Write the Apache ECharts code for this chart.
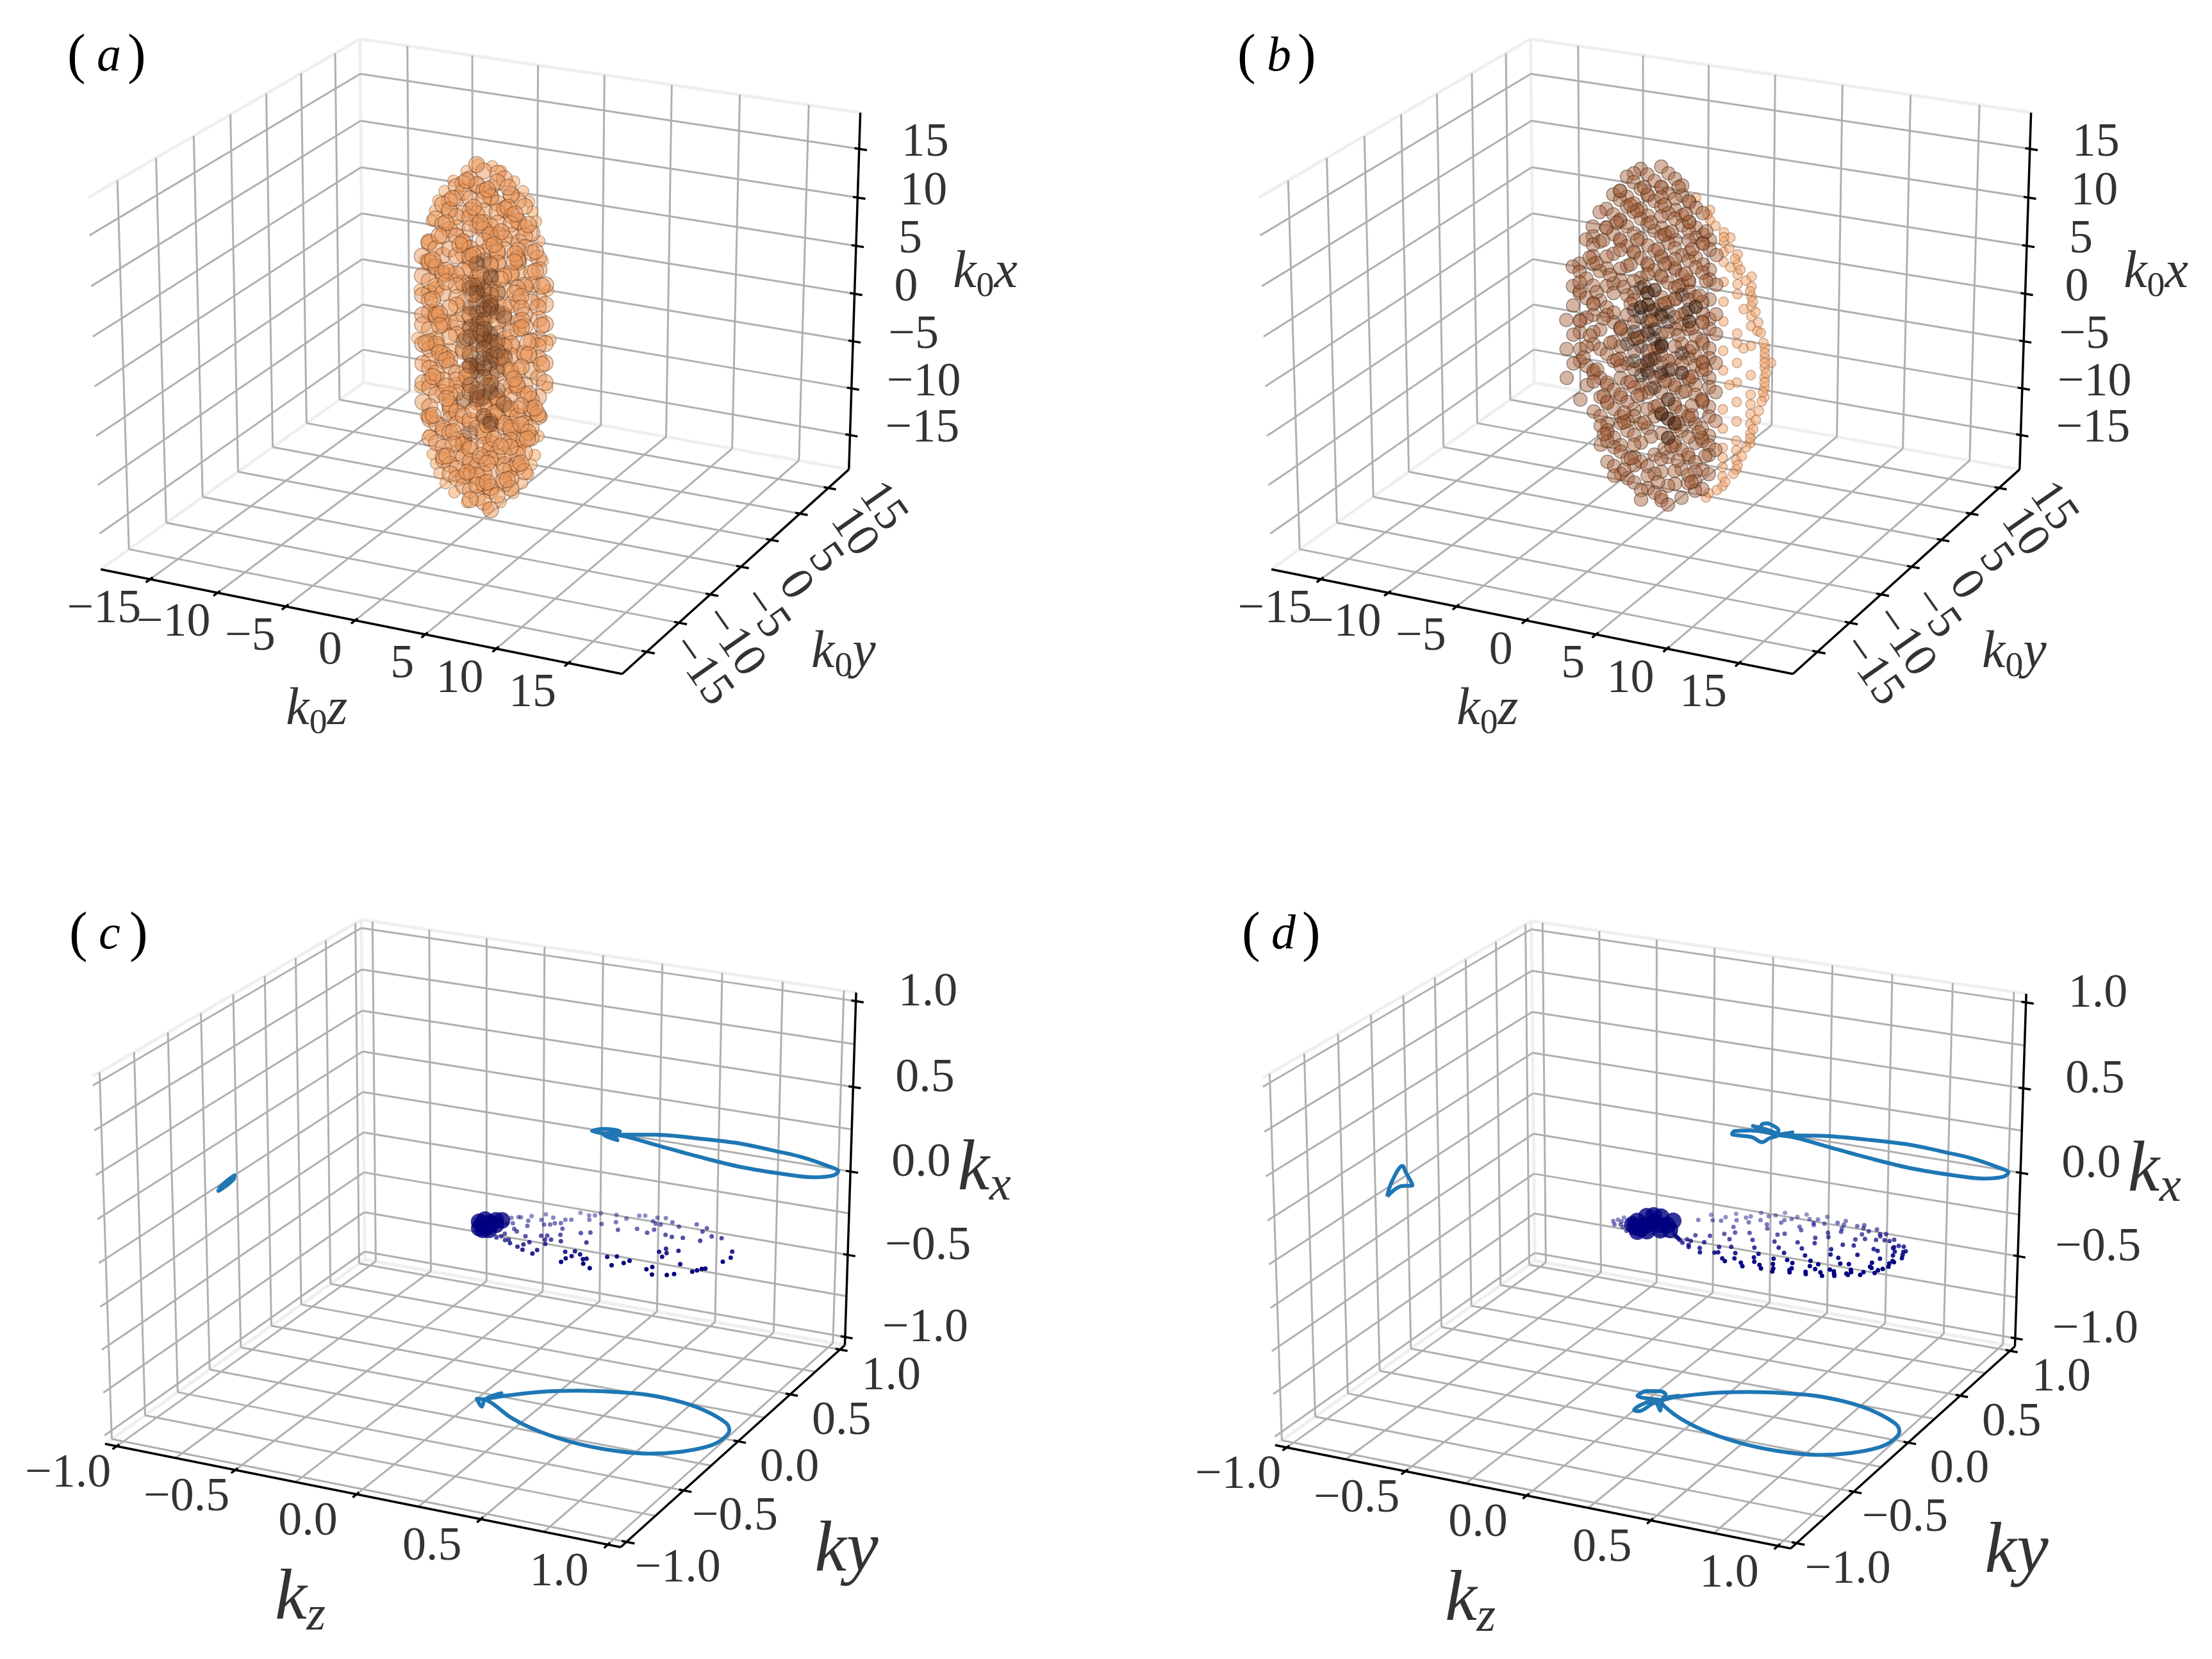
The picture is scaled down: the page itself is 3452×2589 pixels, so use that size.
<!DOCTYPE html>
<html>
<head>
<meta charset="utf-8">
<style>html,body{margin:0;background:#fff}#chart{width:3452px;height:2589px}</style>
<script src="https://cdn.jsdelivr.net/npm/echarts@6/dist/echarts.min.js"></script>
</head>
<body>
<div id="chart"></div>
<script>
// points are [k0z, k0y, k0x]
const cloudA = [
[0,0,17],[1,0,17],[-1,1,17],
[-1,0,16],[1,1,16],[0,-1,16],[1,-1,16],[-1,-1,16],
[-2,0,15],[-1,1,15],[0,0,15],[1,-1,15],[2,0,15],[0,2,15],[-1,-2,15],
[-2,-1,14],[-2,1,14],[-1,0,14],[0,-2,14],[0,1,14],[1,0,14],[2,-1,14],[2,1,14],[1,2,14],
[-3,0,13],[-2,-1,13],[-1,2,13],[-1,-1,13],[0,0,13],[1,-2,13],[1,1,13],[2,0,13],[3,-1,13],[2,2,13],
[-3,-1,12],[-3,1,12],[-2,0,12],[-1,-2,12],[-1,1,12],[0,-1,12],[0,2,12],[1,0,12],[2,-2,12],[2,1,12],[3,0,12],
[-3,0,11],[-2,-2,11],[-2,2,11],[-1,0,11],[0,-3,11],[0,1,11],[1,-1,11],[1,2,11],[2,0,11],[3,-1,11],[3,1,11],
[-3,-2,10],[-3,1,10],[-2,0,10],[-1,-1,10],[-1,2,10],[0,0,10],[0,-3,10],[1,1,10],[1,-2,10],[2,-1,10],[2,2,10],[3,0,10],
[-4,0,9],[-3,-1,9],[-2,1,9],[-2,-2,9],[-1,0,9],[-1,3,9],[0,-2,9],[0,1,9],[1,0,9],[2,-2,9],[2,1,9],[3,1,9],[3,-1,9],
[-4,-1,8],[-3,1,8],[-3,-2,8],[-2,0,8],[-1,-3,8],[-1,1,8],[0,2,8],[0,-1,8],[1,0,8],[1,-3,8],[2,1,8],[3,-1,8],[3,2,8],[4,0,8],
[-4,0,7],[-3,-1,7],[-2,2,7],[-2,-2,7],[-1,0,7],[0,-3,7],[0,1,7],[1,-1,7],[1,3,7],[2,0,7],[2,-3,7],[3,1,7],[4,-1,7],
[-4,1,6],[-4,-1,6],[-3,0,6],[-2,-3,6],[-2,1,6],[-1,-1,6],[-1,3,6],[0,0,6],[1,-2,6],[1,2,6],[2,-1,6],[3,0,6],[4,1,6],
[-4,0,5],[-3,-2,5],[-3,2,5],[-2,0,5],[-1,-2,5],[-1,1,5],[0,3,5],[0,-1,5],[1,0,5],[2,2,5],[2,-2,5],[3,-1,5],[4,0,5],
[-4,-1,4],[-4,1,4],[-3,0,4],[-2,-3,4],[-2,2,4],[-1,-1,4],[0,1,4],[0,-3,4],[1,-1,4],[1,3,4],[2,0,4],[3,1,4],[4,1,4],
[-4,0,3],[-3,-2,3],[-2,0,3],[-2,3,3],[-1,-3,3],[-1,1,3],[0,-1,3],[1,1,3],[1,-2,3],[2,-1,3],[3,2,3],[3,-1,3],[4,0,3],
[-4,-1,2],[-3,1,2],[-3,-1,2],[-2,-2,2],[-1,0,2],[-1,3,2],[0,-2,2],[0,1,2],[1,0,2],[2,2,2],[2,-2,2],[3,0,2],[4,1,2],
[-4,1,1],[-4,-1,1],[-3,0,1],[-2,2,1],[-2,-3,1],[-1,-1,1],[0,0,1],[0,3,1],[1,-2,1],[2,1,1],[2,-1,1],[3,-2,1],[4,0,1],
[-4,0,0],[-3,2,0],[-3,-2,0],[-2,0,0],[-1,-3,0],[-1,1,0],[0,-1,0],[1,2,0],[1,-1,0],[2,0,0],[3,1,0],[3,-2,0],[4,1,0],
[-4,-1,-1],[-3,1,-1],[-3,-1,-1],[-2,-2,-1],[-1,2,-1],[-1,-1,-1],[0,0,-1],[1,-3,-1],[1,1,-1],[2,-1,-1],[3,0,-1],[3,2,-1],[4,0,-1],
[-4,0,-2],[-4,1,-2],[-3,-2,-2],[-2,1,-2],[-2,-1,-2],[-1,3,-2],[0,-2,-2],[0,1,-2],[1,0,-2],[2,2,-2],[2,-2,-2],[3,-1,-2],[4,1,-2],
[-4,-1,-3],[-3,0,-3],[-2,-3,-3],[-2,2,-3],[-1,0,-3],[0,-3,-3],[0,2,-3],[1,-1,-3],[1,1,-3],[2,0,-3],[3,-2,-3],[3,1,-3],[4,0,-3],
[-4,0,-4],[-3,-2,-4],[-3,1,-4],[-2,0,-4],[-1,-2,-4],[-1,2,-4],[0,0,-4],[1,-3,-4],[1,2,-4],[2,-1,-4],[3,0,-4],[3,-2,-4],[4,1,-4],
[-4,1,-5],[-4,-1,-5],[-3,0,-5],[-2,2,-5],[-2,-2,-5],[-1,0,-5],[0,-3,-5],[0,1,-5],[1,-1,-5],[2,1,-5],[2,-2,-5],[3,0,-5],[4,0,-5],
[-4,0,-6],[-3,-1,-6],[-3,2,-6],[-2,0,-6],[-1,-3,-6],[-1,1,-6],[0,-1,-6],[1,3,-6],[1,0,-6],[2,-2,-6],[3,1,-6],[3,-1,-6],[4,-1,-6],
[-4,-1,-7],[-3,1,-7],[-2,-1,-7],[-2,2,-7],[-1,-3,-7],[0,0,-7],[0,2,-7],[1,-2,-7],[1,1,-7],[2,0,-7],[3,-2,-7],[3,1,-7],[4,0,-7],
[-4,0,-8],[-3,-2,-8],[-3,1,-8],[-2,0,-8],[-1,-2,-8],[-1,2,-8],[0,0,-8],[1,-1,-8],[1,2,-8],[2,-1,-8],[2,1,-8],[3,0,-8],[3,2,-8],
[-3,-1,-9],[-4,0,-9],[-2,1,-9],[-2,-2,-9],[-1,0,-9],[0,-3,-9],[0,2,-9],[1,-1,-9],[1,1,-9],[2,0,-9],[3,-1,-9],[3,1,-9],
[-3,0,-10],[-3,-2,-10],[-2,2,-10],[-1,-1,-10],[-1,1,-10],[0,-2,-10],[0,0,-10],[1,2,-10],[1,-1,-10],[2,0,-10],[3,-1,-10],[3,1,-10],
[-3,1,-11],[-3,-1,-11],[-2,0,-11],[-1,-2,-11],[-1,2,-11],[0,0,-11],[1,-2,-11],[1,1,-11],[2,-1,-11],[2,2,-11],[3,0,-11],
[-3,0,-12],[-2,-2,-12],[-2,1,-12],[-1,-1,-12],[0,1,-12],[0,-2,-12],[1,0,-12],[2,-1,-12],[2,1,-12],[3,-1,-12],[1,2,-12],
[-3,0,-13],[-2,-1,-13],[-2,2,-13],[-1,0,-13],[0,-2,-13],[0,1,-13],[1,-1,-13],[2,0,-13],[2,1,-13],[3,0,-13],
[-2,0,-14],[-2,-1,-14],[-1,1,-14],[-1,-1,-14],[0,0,-14],[1,-2,-14],[1,1,-14],[2,0,-14],[2,-1,-14],
[-2,0,-15],[-1,-1,-15],[-1,1,-15],[0,0,-15],[1,-1,-15],[1,1,-15],[2,0,-15],
[-1,0,-16],[0,-1,-16],[0,1,-16],[1,0,-16],[-1,1,-16],
[0,0,-17],[-1,0,-17],[1,-1,-17],
[-1.5,.5,15.5],[.5,-.5,15.5],[1.5,.5,15.5],[-2.5,.5,13.5],[-.5,-.5,13.5],[1.5,.5,13.5],[2.5,-.5,13.5],[-2.5,-.5,11.5],[-.5,.5,11.5],[1.5,-.5,11.5],[2.5,1.5,11.5],
[-3.5,.5,9.5],[-1.5,-.5,9.5],[.5,.5,9.5],[2.5,-.5,9.5],[3.5,.5,9.5],[-3.5,-.5,7.5],[-1.5,1.5,7.5],[.5,-1.5,7.5],[1.5,1.5,7.5],[3.5,.5,7.5],
[-3.5,1.5,5.5],[-2.5,-.5,5.5],[-.5,-.5,5.5],[.5,1.5,5.5],[2.5,-.5,5.5],[3.5,1.5,5.5],[-3.5,-.5,3.5],[-1.5,1.5,3.5],[.5,-.5,3.5],[1.5,2.5,3.5],[2.5,.5,3.5],[3.5,-1.5,3.5],
[-3.5,.5,1.5],[-2.5,-1.5,1.5],[-.5,.5,1.5],[.5,-1.5,1.5],[2.5,.5,1.5],[3.5,1.5,1.5],[-3.5,-1.5,-.5],[-1.5,.5,-.5],[.5,.5,-.5],[1.5,-1.5,-.5],[2.5,1.5,-.5],[3.5,-.5,-.5],
[-3.5,.5,-2.5],[-2.5,-.5,-2.5],[-.5,-1.5,-2.5],[.5,1.5,-2.5],[2.5,.5,-2.5],[3.5,1.5,-2.5],[-3.5,-.5,-4.5],[-1.5,.5,-4.5],[.5,-.5,-4.5],[1.5,1.5,-4.5],[3.5,-.5,-4.5],
[-3.5,1.5,-6.5],[-2.5,-.5,-6.5],[-.5,.5,-6.5],[1.5,-1.5,-6.5],[2.5,.5,-6.5],[3.5,.5,-6.5],[-3.5,-.5,-8.5],[-1.5,1.5,-8.5],[.5,-.5,-8.5],[2.5,.5,-8.5],[3.5,-.5,-8.5],
[-2.5,.5,-10.5],[-1.5,-1.5,-10.5],[.5,.5,-10.5],[1.5,-.5,-10.5],[2.5,1.5,-10.5],[-2.5,-.5,-12.5],[-.5,.5,-12.5],[.5,-.5,-12.5],[2.5,.5,-12.5],[-1.5,.5,-14.5],[.5,-.5,-14.5],[1.5,.5,-14.5]
];
// outline of the ellipsoid
const edgeA = [
[1,.5,17],[-1,-.5,17],[1.8,.8,16],[-1.8,-.8,16],[2.3,1.1,15],[-2.3,-1.1,15],[2.7,1.2,14],[-2.7,-1.2,14],[2.9,1.3,13],[-2.9,-1.3,13],[3.1,1.4,12],[-3.1,-1.4,12],[3.3,1.5,10],[-3.3,-1.5,10],
[3.5,1.6,8],[-3.5,-1.6,8],[3.8,1.8,5],[-3.8,-1.8,5],[4,1.8,0],[-4,-1.8,0],[3.8,1.8,-5],[-3.8,-1.8,-5],[3.5,1.6,-8],[-3.5,-1.6,-8],[3.3,1.5,-10],[-3.3,-1.5,-10],
[3.1,1.4,-12],[-3.1,-1.4,-12],[2.9,1.3,-13],[-2.9,-1.3,-13],[2.7,1.2,-14],[-2.7,-1.2,-14],[2.3,1.1,-15],[-2.3,-1.1,-15],[1.8,.8,-16],[-1.8,-.8,-16],[1,.5,-17],[-1,-.5,-17],[.5,.2,17.5],[-.5,.1,17.5],[.3,0,-17.5]
];
const coreA = [
[0,0,8],[-1,1,7],[1,-1,7],[0,1,6],[0,-1,6],[-1,0,5],[1,0,5],[0,0,5],[-1,1,4],[1,-1,4],[0,0,4],[0,1,3],[-1,0,3],[1,0,3],
[0,-1,2],[-1,1,2],[1,1,2],[0,0,2],[-1,0,1],[1,-1,1],[0,0,1],[0,1,0],[-1,-1,0],[1,0,0],[0,0,0],[-1,1,-1],[1,-1,-1],[0,0,-1],
[0,-1,-2],[-1,0,-2],[1,1,-2],[0,0,-2],[0,1,-3],[-1,0,-3],[1,0,-3],[-1,1,-4],[1,-1,-4],[0,0,-4],[0,-1,-5],[-1,0,-5],[1,0,-5],
[0,1,-6],[-1,-1,-6],[0,0,-6],[1,1,-7],[-1,1,-7],[0,0,-8],[1,-1,-8],[0,1,-9],[-1,0,-10],[0,0,3],[0,0,-3],[-1,0,0],[1,0,-1]
];
const bodyB = [
[-1,0,17],[0,1,17],[1,0,17],[-1,-1,17],
[-2,0,16],[-1,1,16],[0,0,16],[1,-1,16],[1,1,16],[2,0,16],
[-2,-1,15],[-2,1,15],[-1,0,15],[0,-1,15],[0,1,15],[1,0,15],[2,0,15],[3,-1,15],
[-3,0,14],[-2,0,14],[-1,-1,14],[-1,1,14],[0,0,14],[1,1,14],[2,-1,14],[2,1,14],[3,0,14],
[-3,-1,13],[-3,1,13],[-2,0,13],[-1,0,13],[0,-1,13],[0,1,13],[1,0,13],[2,0,13],[3,-1,13],[3,1,13],
[-4,0,12],[-3,0,12],[-2,1,12],[-2,-1,12],[-1,0,12],[0,1,12],[1,-1,12],[1,1,12],[2,0,12],[3,0,12],[4,-1,12],
[-4,-1,11],[-3,1,11],[-2,0,11],[-1,-1,11],[-1,1,11],[0,0,11],[1,0,11],[2,-1,11],[2,1,11],[3,0,11],[4,0,11],
[-4,1,10],[-4,-1,10],[-3,0,10],[-2,-1,10],[-1,0,10],[0,1,10],[0,-1,10],[1,0,10],[2,1,10],[3,-1,10],[3,1,10],[4,0,10],
[-5,0,9],[-4,0,9],[-3,1,9],[-2,0,9],[-1,-1,9],[0,0,9],[1,1,9],[1,-1,9],[2,0,9],[3,0,9],[4,-1,9],[4,1,9],
[-5,1,8],[-4,-1,8],[-3,0,8],[-2,1,8],[-1,0,8],[0,-1,8],[0,1,8],[1,0,8],[2,-1,8],[2,1,8],[3,0,8],[4,0,8],
[-5,-1,7],[-4,1,7],[-3,-1,7],[-2,0,7],[-1,1,7],[0,0,7],[1,-1,7],[1,1,7],[2,0,7],[3,1,7],[4,0,7],[3,-1,7],
[-6,0,6],[-5,1,6],[-4,0,6],[-3,1,6],[-2,-1,6],[-1,0,6],[0,1,6],[1,0,6],[2,0,6],[2,1,6],[3,-1,6],[4,1,6],
[-6,1,5],[-5,0,5],[-4,-1,5],[-3,0,5],[-2,1,5],[-1,-1,5],[0,0,5],[1,1,5],[2,-1,5],[3,0,5],[4,0,5],[1,-1,5],
[-6,0,4],[-5,-1,4],[-4,1,4],[-3,0,4],[-2,0,4],[-1,1,4],[0,-1,4],[1,0,4],[2,1,4],[3,0,4],[3,1,4],[4,-1,4],
[-6,1,3],[-5,0,3],[-4,0,3],[-3,-1,3],[-2,1,3],[-1,0,3],[0,1,3],[1,-1,3],[2,0,3],[3,-1,3],[4,0,3],[4,1,3],
[-6,0,2],[-5,1,2],[-4,-1,2],[-3,0,2],[-2,0,2],[-1,-1,2],[0,0,2],[1,1,2],[2,0,2],[2,-1,2],[3,1,2],[4,0,2],
[-6,-1,1],[-5,0,1],[-4,1,1],[-3,0,1],[-2,-1,1],[-1,1,1],[0,-1,1],[1,0,1],[2,1,1],[3,0,1],[4,-1,1],[4,1,1],
[-6,1,0],[-5,-1,0],[-4,0,0],[-3,1,0],[-2,0,0],[-1,0,0],[0,1,0],[1,-1,0],[2,0,0],[3,-1,0],[3,1,0],[4,0,0],
[-6,0,-1],[-5,1,-1],[-4,-1,-1],[-3,0,-1],[-2,1,-1],[-1,-1,-1],[0,0,-1],[1,1,-1],[2,-1,-1],[3,0,-1],[4,0,-1],[4,-1,-1],
[-6,-1,-2],[-5,0,-2],[-4,0,-2],[-3,1,-2],[-2,-1,-2],[-1,1,-2],[0,-1,-2],[1,0,-2],[2,1,-2],[3,0,-2],[4,1,-2],[2,0,-2],
[-6,1,-3],[-5,-1,-3],[-4,1,-3],[-3,0,-3],[-2,0,-3],[-1,0,-3],[0,1,-3],[1,-1,-3],[2,0,-3],[3,1,-3],[3,-1,-3],[4,0,-3],
[-6,0,-4],[-5,0,-4],[-4,-1,-4],[-3,1,-4],[-2,-1,-4],[-1,1,-4],[0,0,-4],[1,0,-4],[2,-1,-4],[2,1,-4],[3,0,-4],[4,0,-4],
[-6,-1,-5],[-5,1,-5],[-4,0,-5],[-3,-1,-5],[-2,0,-5],[-1,0,-5],[0,-1,-5],[1,1,-5],[2,0,-5],[3,0,-5],[4,-1,-5],[4,1,-5],
[-5,0,-6],[-4,1,-6],[-3,0,-6],[-2,-1,-6],[-2,1,-6],[-1,0,-6],[0,1,-6],[1,0,-6],[2,-1,-6],[3,1,-6],[4,0,-6],
[-5,-1,-7],[-4,0,-7],[-3,1,-7],[-2,0,-7],[-1,-1,-7],[0,0,-7],[1,-1,-7],[1,1,-7],[2,0,-7],[3,-1,-7],[4,0,-7],
[-4,1,-8],[-4,-1,-8],[-3,0,-8],[-2,-1,-8],[-1,1,-8],[0,0,-8],[1,0,-8],[2,1,-8],[2,-1,-8],[3,0,-8],[4,1,-8],
[-4,0,-9],[-3,-1,-9],[-2,1,-9],[-2,0,-9],[-1,0,-9],[1,-1,-9],[1,1,-9],[2,0,-9],[3,1,-9],[4,0,-9],[4,-1,-9],
[-4,0,-10],[-3,1,-10],[-3,-1,-10],[-2,0,-10],[-1,1,-10],[1,0,-10],[2,-1,-10],[3,0,-10],[3,1,-10],[4,0,-10],
[-4,1,-11],[-3,0,-11],[-2,-1,-11],[-2,1,-11],[-1,0,-11],[1,1,-11],[2,0,-11],[3,-1,-11],[4,0,-11],[4,1,-11],
[-4,0,-12],[-3,0,-12],[-2,1,-12],[-1,-1,-12],[0,0,-12],[1,0,-12],[2,1,-12],[3,0,-12],[4,-1,-12],
[-3,-1,-13],[-3,1,-13],[-2,0,-13],[-1,0,-13],[0,1,-13],[1,-1,-13],[2,0,-13],[3,0,-13],[4,0,-13],
[-3,0,-14],[-2,-1,-14],[-1,1,-14],[0,0,-14],[1,1,-14],[2,-1,-14],[3,0,-14],[4,-1,-14],
[-3,0,-15],[-2,0,-15],[-1,1,-15],[0,-1,-15],[1,0,-15],[2,1,-15],[3,0,-15],
[-2,1,-16],[-1,0,-16],[0,0,-16],[1,-1,-16],[2,0,-16],
[-1,0,-17],[0,1,-17],[1,0,-17],
[-2.5,0,14.5],[.5,0,14.5],[-1.5,.5,12.5],[2.5,0,12.5],[-3.5,0,10.5],[.5,.5,10.5],[3.5,0,10.5],[-2.5,0,8.5],[1.5,0,8.5],[-4.5,.5,6.5],[-.5,0,6.5],[3.5,.5,6.5],
[-5.5,0,4.5],[-2.5,.5,4.5],[1.5,0,4.5],[-4.5,0,2.5],[-.5,.5,2.5],[3.5,0,2.5],[-5.5,0,.5],[-2.5,0,.5],[1.5,.5,.5],[-3.5,.5,-1.5],[.5,0,-1.5],[3.5,0,-1.5],
[-5.5,.5,-3.5],[-1.5,0,-3.5],[2.5,.5,-3.5],[-4.5,0,-5.5],[-.5,.5,-5.5],[3.5,0,-5.5],[-3.5,0,-7.5],[.5,0,-7.5],[2.5,.5,-7.5],[-2.5,.5,-9.5],[2.5,0,-9.5],[-3.5,0,-11.5],[.5,.5,-11.5],[3.5,.5,-11.5],[-1.5,0,-13.5],[2.5,0,-13.5],
[-.5,-.5,15.5],[1.5,.5,15.5],[-1.5,-.5,13.5],[.5,.5,13.5],[2.5,-.5,13.5],[-2.5,-.5,11.5],[-.5,.5,11.5],[1.5,-.5,11.5],[3.5,.5,11.5],[-3.5,-.5,9.5],[-1.5,.5,9.5],[.5,-.5,9.5],[2.5,.5,9.5],
[-4.5,-.5,7.5],[-1.5,-.5,7.5],[.5,.5,7.5],[2.5,-.5,7.5],[-3.5,.5,5.5],[-.5,-.5,5.5],[1.5,.5,5.5],[3.5,-.5,5.5],[-4.5,.5,3.5],[-1.5,-.5,3.5],[.5,.5,3.5],[2.5,-.5,3.5],
[-3.5,-.5,1.5],[-.5,.5,1.5],[2.5,.5,1.5],[-4.5,-.5,-.5],[-1.5,.5,-.5],[.5,-.5,-.5],[2.5,.5,-.5],[-2.5,-.5,-2.5],[-.5,.5,-2.5],[1.5,-.5,-2.5],[3.5,.5,-2.5],[-4.5,.5,-4.5],[-1.5,-.5,-4.5],[.5,.5,-4.5],[2.5,-.5,-4.5],
[-3.5,-.5,-6.5],[-1.5,.5,-6.5],[.5,-.5,-6.5],[2.5,.5,-6.5],[-2.5,.5,-8.5],[-.5,-.5,-8.5],[1.5,.5,-8.5],[3.5,-.5,-8.5],[-3.5,-.5,-10.5],[-.5,.5,-10.5],[1.5,-.5,-10.5],[-1.5,-.5,-12.5],[1.5,.5,-12.5],[-2.5,.5,-14.5],[.5,-.5,-14.5],[2.5,.5,-14.5]
];
const rimB = [
[3,0,15],[4,0,14],[4,0,13],[5,0,12],[5,0,11],[5,1,11],[5,0,10],[6,0,10],[5,0,9],[6,0,9],[5,1,8],[6,0,8],[7,0,8],[5,0,7],[6,0,7],[7,0,7],
[6,0,6],[7,0,6],[5,0,5],[7,0,5],[6,1,4],[7,0,4],[5,0,3],[7,0,3],[6,0,2],[7,1,2],[6,0,1],[7,0,1],[5,0,0],[6,1,0],[8,0,0],[6,0,-1],[8,0,-1],
[5,0,-2],[7,0,-2],[8,0,-2],[6,0,-3],[8,0,-3],[5,1,-4],[7,0,-4],[8,0,-4],[6,0,-5],[7,0,-5],[5,0,-6],[7,0,-6],[6,0,-7],[7,0,-7],[5,0,-8],[7,0,-8],
[6,0,-9],[7,0,-9],[5,0,-10],[6,0,-10],[5,0,-11],[6,0,-11],[5,0,-12],[6,0,-12],[5,0,-13],[5,0,-14],[4,0,-15],[8,0,1],[8,1,-1],
[3.8,0,13.5],[4.4,0,12.5],[5,0,11.5],[5.4,0,10.5],[5.8,0,9.5],[6.2,0,8.5],[6.6,0,7.5],[6.9,0,6.5],[7.1,0,5.5],[7.3,0,4.5],[7.5,0,3.5],[7.7,0,2.5],[7.9,0,1.5],[8,0,.5],
[8,0,-.5],[8.1,0,-1.5],[8,0,-2.5],[7.9,0,-3.5],[7.8,0,-4.5],[7.6,0,-5.5],[7.4,0,-6.5],[7.2,0,-7.5],[7,0,-8.5],[6.7,0,-9.5],[6.4,0,-10.5],[6.1,0,-11.5],[5.8,0,-12.5],[5.2,0,-13.5],[4.6,0,-14.5],[3.8,0,-15.5]
];
const coreB = [
[-1,0,5],[0,0,5],[-1,1,4],[0,-1,4],[-1,0,3],[0,0,3],[1,0,3],[-2,1,2],[-1,0,2],[0,1,2],[-1,-1,1],[0,0,1],[-1,1,0],[0,0,0],[1,-1,0],
[-2,0,-1],[-1,0,-1],[0,1,-1],[-1,-1,-2],[0,0,-2],[-1,1,-3],[0,-1,-3],[1,0,-3],[-1,0,-4],[0,1,-4],[0,0,-5],[1,0,-6],[1,-1,-7],[1,0,-8],[1,1,-9],[1,0,-10],
[2,0,5],[3,0,4],[2,1,3],[3,-1,3],[1,0,2],[2,0,-1],[2,0,-3]
];
// kz, ky pairs of the far field points, kx stays about 0
const discC = [
[.46,-.3],[.46,-.26],[.47,-.23],[.43,-.2],[.46,-.18],[.49,-.2],[.52,-.24],[.53,-.23],[.54,-.28],[.58,-.31],[.64,-.25],[.59,-.18],[.62,-.16],[.67,-.21],[.68,-.18],
[.77,-.23],[.78,-.2],[.81,-.27],[.86,-.25],[.88,-.23],[.86,-.13],[.77,-.09],[.77,-.05],[.74,-.05],[.75,-.01],[.8,-.01],[.93,-.18],[.94,-.16],[.95,-.14],[.96,-.13],
[.99,-.04],[1,.01],[.98,.07],[.89,.18],[.85,.18],[.8,.21],[.8,.25],[.75,.27],[.76,.12],[.72,.11],[.69,.12],[.83,.12],[.7,.22],[.66,.25],[.62,.28],[.59,.27],
[.59,.23],[.61,.21],[.63,.21],[.63,.15],[.62,.11],[.57,.13],[.51,.09],[.49,.21],[.52,.26],[.54,.27],[.44,.23],[.47,.16],[.38,.22],[.43,.12],[.37,.19],[.35,.18],
[.31,.19],[.37,.14],[.4,0],[.43,.02],[.46,-.08],[.37,-.11],[.34,-.05],[.32,.01],[.29,.06],[.31,.11],[.29,.1],[.24,.1],[.2,.12],[.21,.06],[.24,.02],[.26,.03],
[.27,.05],[.17,.03],[.19,-.02],[.16,.08],[.12,.05],[.18,-.09],[.13,-.02],[.23,-.12],[.28,-.09],[.3,-.08],[.33,-.11],[.31,-.12],[.33,-.16],[.27,-.17],[.26,-.2],
[.25,-.23],[.28,-.25],[.33,-.27],[.33,-.23],[.21,-.21],[.18,-.19],[.15,-.16],[.11,-.03],[.16,-.07],[.13,.05],[.1,.03],[.15,-.13],[.19,-.18],[.14,-.18]
];
const blobC = [[.01,-.06],[.04,-.12],[.02,-.03],[.06,-.09],[.06,-.02],[.08,-.01],[.08,-.12],[.06,-.13],[.08,-.06],[.03,-.08],[.05,-.05]];
const discD = [
[.36,-.23],[.41,-.27],[.43,-.29],[.49,-.28],[.51,-.31],[.56,-.27],[.58,-.3],[.62,-.28],[.63,-.31],[.68,-.27],[.69,-.29],[.74,-.26],[.75,-.28],[.79,-.24],[.81,-.27],[.84,-.23],[.85,-.25],
[.88,-.21],[.89,-.22],[.93,-.17],[.93,-.2],[.97,-.13],[.97,-.16],[.99,-.08],[.98,-.11],[.99,-.03],[.98,-.05],[1,.02],[.99,.05],[.985,.09],[.98,.08],[.96,.13],[.94,.13],[.9,.18],
[.89,.16],[.85,.22],[.84,.19],[.8,.25],[.78,.22],[.74,.27],[.72,.25],[.66,.28],[.64,.25],[.58,.29],[.56,.25],[.5,.28],[.48,.24],[.42,.26],[.4,.22],[.34,.22],[.32,.17],[.26,.17],[.24,.12],[.18,.12],[.16,.05],
[.29,-.21],[.28,-.15],[.23,-.16],[.22,-.1],[.31,-.25],[.25,-.22],[.24,-.2],[.16,-.14],[.21,-.15],[.13,-.1],[.35,-.17],[.37,-.22],[.43,-.2],[.45,-.25],[.51,-.21],[.53,-.25],[.58,-.19],[.6,-.24],[.66,-.2],[.68,-.25],[.73,-.2],[.76,-.22],[.81,-.2],[.83,-.21],[.88,-.17],[.89,-.19],[.93,-.11],[.94,-.12],[.98,-.02],
[.93,-.02],[.96,.03],[.95,.07],[.93,.11],[.93,.1],[.87,.16],[.84,.15],[.83,.21],[.77,.18],[.75,.24],[.68,.2],[.67,.24],[.6,.22],[.56,.21],[.53,.24],[.47,.21],[.45,.19],[.38,.2],[.37,.15],[.31,.15],[.29,.11],[.24,.08],[.21,.07],
[.31,.04],[.34,.11],[.41,.12],[.45,.16],[.53,.15],[.57,.19],[.65,.14],[.69,.17],[.77,.12],[.8,.14],[.87,.06],[.89,.05],[.92,-.07],[.85,-.12],[.82,-.13],[.75,-.17],[.71,-.15],[.63,-.18],[.59,-.12],[.51,-.17],[.47,-.12],[.39,-.15],[.35,-.08],[.27,-.08],
[.39,.01],[.43,.08],[.51,.06],[.55,.12],[.63,.07],[.67,.1],[.75,.05],[.79,.06],[.84,-.02],[.79,-.08],[.75,-.06],[.67,-.11],[.63,-.05],[.55,-.08],[.51,-.03],[.43,-.05],[.49,.04],[.59,0],[.65,.02],[.73,-.01],[.34,-.01],[.31,-.04]
];
const blobD = [[-.01,.02],[-.03,0],[.02,.02],[.02,-.04],[-.04,-.06],[.01,-.13],[.01,-.16],[.04,-.14],[.08,-.11],[.11,-.09],[.08,0],[.08,-.05],[.01,-.08],[.05,-.06],[-.04,-.1],[-.02,-.12]];
const haloD = [[-.1,-.13],[-.11,-.08],[-.12,-.1],[-.1,-.05],[-.06,-.14],[-.08,-.12],[-.03,-.17],[-.09,-.09],[-.07,-.07],[-.05,-.1],[.15,-.13],[.17,-.15],[.19,-.17],[.21,-.19],[.18,-.16]];
// the same far field projected onto the three walls
const floorCurveC = [[.03,-.05],[0,-.06],[.05,-.12],[.03,-.05],[.06,.03],[.03,-.05],[.08,.01],[.19,.11],[.31,.18],[.44,.23],[.57,.26],[.71,.25],[.83,.21],[.94,.14],[.98,.08],[.99,-.01],[.97,-.09],[.9,-.18],[.8,-.25],[.68,-.28],[.52,-.28],[.35,-.24],[.2,-.17],[.08,-.08],[.03,-.05]];
const floorCurveD = [[.05,-.04],[.04,.02],[.01,.04],[-.04,.02],[-.05,-.04],[.05,-.04],[.01,-.08],[0,-.17],[.02,-.17],[.04,-.07],[.09,-.13],[.05,-.04],[.09,.03],[.05,-.04],[.08,.01],[.19,.11],[.31,.18],[.44,.23],[.57,.26],[.71,.25],[.83,.21],[.94,.14],[.98,.08],[.99,-.01],[.97,-.09],[.9,-.18],[.8,-.25],[.68,-.28],[.52,-.28],[.35,-.24],[.2,-.17],[.08,-.08],[.05,-.04]];
const wallCurveC = [[.05,-.01],[-.04,-.01],[.01,.015],[.08,.017],[.01,-.02],[.07,-.04],[.05,-.01],[.23,.03],[.42,.05],[.6,.06],[.73,.05],[.84,.04],[.96,.01],[1,-.01],[.98,-.04],[.9,-.07],[.78,-.08],[.6,-.08],[.42,-.06],[.23,-.03],[.11,-.01],[.05,-.01]];
const wallCurveD = [[.03,-.01],[-.09,-.01],[-.16,-.03],[-.17,-.05],[-.12,-.05],[-.08,-.05],[-.04,-.07],[-.01,-.04],[.03,-.01],[-.08,.02],[-.05,.015],[-.04,.04],[-.02,.05],[.01,.04],[.03,.02],[.03,-.01],[.09,.02],[.03,-.01],[.23,.03],[.42,.05],[.6,.06],[.73,.05],[.84,.04],[.96,.01],[1,-.01],[.98,-.04],[.9,-.07],[.78,-.08],[.6,-.08],[.42,-.06],[.23,-.03],[.11,-.01],[.03,-.01]];
const sideCurveC = [[-.15,-.02],[-.09,-.005],[-.02,0],[-.03,-.02],[-.09,-.03],[-.15,-.03],[-.15,-.02]];
const sideCurveD = [[-.16,-.05],[-.12,.02],[-.035,.07],[-.01,.02],[.04,-.08],[-.06,-.04],[-.16,-.05]];

const ticksAB = [-15,-10,-5,0,5,10,15];
const labelsAB = ['−15','−10','−5','0','5','10','15'];
const gridCD = [-1,-.75,-.5,-.25,0,.25,.5,.75,1];
const ticksCD = [-1,-.5,0,.5,1];
const labelsCD = ['−1.0','−0.5','0.0','0.5','1.0'];

const FONT = 'Liberation Serif';
const view = {elev: 22.1, azim: -64, dist: 10, box: [1.1429, 1.1429, .84]};

const rad = Math.PI / 180;
const ce = Math.cos(view.elev * rad), se = Math.sin(view.elev * rad);
const ca = Math.cos(view.azim * rad), sa = Math.sin(view.azim * rad);
// perspective of the 3d box, gives [u, v, depth]
function project(p, L) {
  const X = p[0] / L * view.box[0] / 2, Y = p[1] / L * view.box[1] / 2, Z = p[2] / L * view.box[2] / 2;
  const xx = -sa * X + ca * Y;
  const yy = -se * ca * X - se * sa * Y + ce * Z;
  const d = view.dist - (ce * ca * X + ce * sa * Y + se * Z);
  return [xx / d, yy / d, d];
}

const RX = .095, RY = .072;
const labA = {xLab: {dx: [-72, -69, -56, -39, -36, -57, -56], dy: 48}, yLab: {dx: 72, dy: -52, rot: -55}, zLab: {neg: 55, zero: 62, pos: 66, dy: -9}};
const labC = {xLab: {dx: [-76, -76, -76, -76, -76], dy: 44}, yLab: {dx: 80, dy: 42, rot: 0}, zLab: {neg: 58, zero: 64, pos: 66, dy: -13}};
const panels = [
  Object.assign({tag: 'a', lim: 18.7, grid: ticksAB, ticks: ticksAB, labels: labelsAB, cx: 755, cy: 529, sx: 7756, sy: 7300, fs: 74, tfs: 82, tl: [100, 42],
    xt: '{i|k}{s|0}{i|z}', yt: '{i|k}{s|0}{i|y}', zt: '{i|k}{s|0}{i|x}', xOff: [-60, 140], yOff: [160, 135], zOff: [204, -32]}, labA),
  Object.assign({tag: 'b', lim: 18.7, grid: ticksAB, ticks: ticksAB, labels: labelsAB, cx: 2582, cy: 529, sx: 7756, sy: 7300, fs: 74, tfs: 82, tl: [1926, 42],
    xt: '{i|k}{s|0}{i|z}', yt: '{i|k}{s|0}{i|y}', zt: '{i|k}{s|0}{i|x}', xOff: [-60, 140], yOff: [160, 135], zOff: [204, -32]}, labA),
  Object.assign({tag: 'c', lim: 1.05, grid: gridCD, ticks: ticksCD, labels: labelsCD, cx: 755, cy: 1898, sx: 7670, sy: 7214, fs: 74, tfs: 112, tl: [103, 1412],
    xt: '{i|k}{s|z}', yt: '{i|ky}', zt: '{i|k}{s|x}', xOff: [-88, 165], yOff: [169, 172], zOff: [209, -2]}, labC),
  Object.assign({tag: 'd', lim: 1.05, grid: gridCD, ticks: ticksCD, labels: labelsCD, cx: 2581, cy: 1900, sx: 7670, sy: 7214, fs: 74, tfs: 112, tl: [1933, 1412],
    xt: '{i|k}{s|z}', yt: '{i|ky}', zt: '{i|k}{s|x}', xOff: [-88, 165], yOff: [169, 172], zOff: [209, -2]}, labC)
];

const grids = [], xAxes = [], yAxes = [], titles = [], series = [];

function seg(a, b, L) {
  const p = project(a, L), q = project(b, L);
  return {coords: [[p[0], p[1]], [q[0], q[1]]]};
}
function addLines(i, data, color, width, z) {
  series.push({type: 'lines', coordinateSystem: 'cartesian2d', xAxisIndex: i, yAxisIndex: i, silent: true, z: z,
    lineStyle: {color: color, width: width, opacity: 1, curveness: 0}, data: data});
}
function addCurve(i, pts, L) {
  series.push({type: 'line', xAxisIndex: i, yAxisIndex: i, silent: true, z: 6, clip: false, smooth: .35, showSymbol: false, symbol: 'none',
    lineStyle: {color: '#1f77b4', width: 6, join: 'round'},
    data: pts.map(p => project(p, L).slice(0, 2))});
}
function addPoints(i, pts, L, size, fill, edge, z) {
  series.push({type: 'scatter', xAxisIndex: i, yAxisIndex: i, silent: true, z: z, clip: false, symbolSize: size,
    itemStyle: {color: fill, borderColor: edge, borderWidth: edge ? 1.5 : 0},
    data: pts.map(p => project(p, L).slice(0, 2))});
}
function addDisc(i, pairs, L, size) {
  // depth shading, far points fade out
  series.push({type: 'scatter', xAxisIndex: i, yAxisIndex: i, silent: true, z: 7, clip: false, symbolSize: size,
    data: pairs.map(k => {
      const p = project([k[0], k[1], 0], L);
      const op = Math.max(.25, Math.min(1, 1 - (p[2] - 9.75) * 2.2));
      return {value: [p[0], p[1]], itemStyle: {color: '#000080', opacity: op}};
    })});
}
function addLabels(i, items, size, extra) {
  series.push({type: 'scatter', xAxisIndex: i, yAxisIndex: i, silent: true, z: 10, clip: false, symbolSize: 1,
    itemStyle: {color: 'transparent'},
    data: items.map(t => ({
      value: project(t.at, t.L).slice(0, 2), name: t.text,
      label: Object.assign({show: true, position: 'inside', formatter: '{b}', color: '#000', fontFamily: FONT, fontSize: size,
        align: 'center', verticalAlign: 'middle', offset: t.off, rotate: t.rot || 0}, extra || {})
    }))});
}

panels.forEach((pn, i) => {
  const L = pn.lim;
  grids.push({left: pn.cx - RX * pn.sx, top: pn.cy - RY * pn.sy, width: 2 * RX * pn.sx, height: 2 * RY * pn.sy});
  xAxes.push({type: 'value', gridIndex: i, min: -RX, max: RX, show: false});
  yAxes.push({type: 'value', gridIndex: i, min: -RY, max: RY, show: false});

  titles.push({text: '{p|(}{a|' + pn.tag + '}{p|)}', left: pn.tl[0], top: pn.tl[1],
    textStyle: {fontWeight: 'normal', rich: {
      p: {fontFamily: FONT, fontWeight: 'normal', fontSize: 86, color: '#000', width: 46, align: 'left'},
      a: {fontFamily: FONT, fontWeight: 'normal', fontStyle: 'italic', fontSize: 76, color: '#000', width: 48, align: 'left'}
    }}});

  // pane borders
  const edges = [
    seg([-L, -L, L], [-L, L, L], L), seg([-L, L, L], [L, L, L], L),
    seg([-L, L, -L], [L, L, -L], L), seg([-L, -L, -L], [-L, L, -L], L),
    seg([-L, L, -L], [-L, L, L], L)
  ];
  addLines(i, edges, '#efefef', 5, 1);

  // grid on floor and the two walls
  const wire = [];
  pn.grid.forEach(t => {
    wire.push(seg([t, -L, -L], [t, L, -L], L), seg([t, L, -L], [t, L, L], L));
    wire.push(seg([-L, t, -L], [L, t, -L], L), seg([-L, t, -L], [-L, t, L], L));
    wire.push(seg([-L, -L, t], [-L, L, t], L), seg([-L, L, t], [L, L, t], L));
  });
  addLines(i, wire, '#b0b0b0', 3, 2);

  // black axes and their ticks
  const axes = [seg([-L, -L, -L], [L, -L, -L], L), seg([L, -L, -L], [L, L, -L], L), seg([L, L, -L], [L, L, L], L)];
  const inn = L * .018, out = L * .03;
  pn.ticks.forEach(t => {
    axes.push(seg([t, -L + inn, -L], [t, -L - out, -L], L));
    axes.push(seg([L - inn, t, -L], [L + out, t, -L], L));
    axes.push(seg([L - inn, L, t], [L + out, L, t], L));
  });
  addLines(i, axes, '#000', 3.5, 5);

  // tick labels
  addLabels(i, pn.ticks.map((t, j) => ({at: [t, -L, -L], L: L, text: pn.labels[j], off: [pn.xLab.dx[j], pn.xLab.dy]})), pn.fs);
  addLabels(i, pn.ticks.map((t, j) => ({at: [L, t, -L], L: L, text: pn.labels[j], off: [pn.yLab.dx, pn.yLab.dy], rot: pn.yLab.rot})), pn.fs);
  addLabels(i, pn.ticks.map((t, j) => ({at: [L, L, t], L: L, text: pn.labels[j],
    off: [t < 0 ? pn.zLab.neg : t > 0 ? pn.zLab.pos : pn.zLab.zero, pn.zLab.dy]})), pn.fs, {align: 'left'});

  // axis names
  const rich = {
    i: {fontFamily: FONT, fontStyle: 'italic', fontSize: pn.tfs, color: '#000', verticalAlign: 'bottom'},
    s: {fontFamily: FONT, fontStyle: pn.tag < 'c' ? 'normal' : 'italic', fontSize: pn.tfs * .68, color: '#000', verticalAlign: 'bottom', padding: [0, 0, -8, 0]}
  };
  addLabels(i, [
    {at: [0, -L, -L], L: L, text: pn.xt, off: pn.xOff},
    {at: [L, 0, -L], L: L, text: pn.yt, off: pn.yOff},
    {at: [L, L, 0], L: L, text: pn.zt, off: pn.zOff}
  ], pn.tfs, {rich: rich, formatter: p => p.name});
});

// panel (a)
addPoints(0, edgeA, 18.7, 18, 'rgba(248,185,130,.8)', 'rgba(120,75,35,.5)', 7);
addPoints(0, cloudA, 18.7, 25, 'rgba(232,148,88,.6)', 'rgba(90,50,22,.55)', 7);
addPoints(0, coreA, 18.7, 24, 'rgba(90,50,25,.3)', 'rgba(40,20,8,.25)', 8);
// panel (b)
addPoints(1, rimB, 18.7, 15, 'rgba(242,165,110,.65)', 'rgba(130,70,30,.5)', 7);
addPoints(1, bodyB, 18.7, 21, 'rgba(165,98,60,.58)', 'rgba(55,28,10,.55)', 7);
addPoints(1, coreB, 18.7, 21, 'rgba(45,22,10,.42)', 'rgba(20,10,4,.4)', 8);
// panel (c)
addCurve(2, floorCurveC.map(k => [k[0], k[1], -1.05]), 1.05);
addCurve(2, wallCurveC.map(k => [k[0], 1.05, k[1]]), 1.05);
addCurve(2, sideCurveC.map(k => [-1.05, k[0], k[1]]), 1.05);
addDisc(2, discC, 1.05, 7);
addPoints(2, blobC.map(k => [k[0], k[1], 0]), 1.05, 26, '#000080', null, 8);
// panel (d)
addCurve(3, floorCurveD.map(k => [k[0], k[1], -1.05]), 1.05);
addCurve(3, wallCurveD.map(k => [k[0], 1.05, k[1]]), 1.05);
addCurve(3, sideCurveD.map(k => [-1.05, k[0], k[1]]), 1.05);
addDisc(3, discD.concat(haloD), 1.05, 7);
addPoints(3, blobD.map(k => [k[0], k[1], 0]), 1.05, 26, '#000080', null, 8);

const chart = echarts.init(document.getElementById('chart'));
chart.setOption({
  backgroundColor: '#fff',
  animation: false,
  title: titles,
  grid: grids,
  xAxis: xAxes,
  yAxis: yAxes,
  series: series
});
</script>
</body>
</html>
